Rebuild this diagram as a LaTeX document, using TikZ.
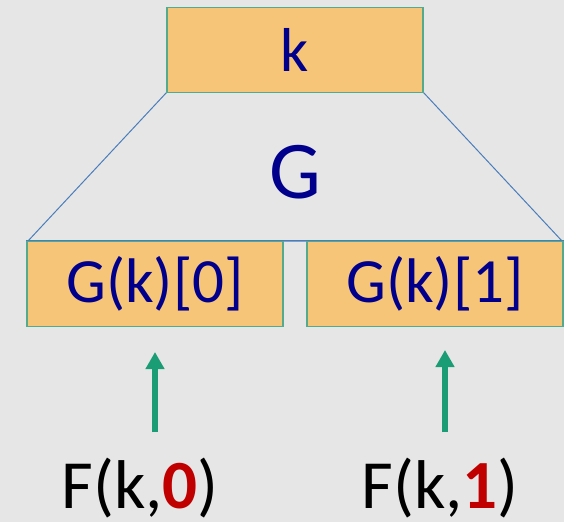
\documentclass[tikz,border=0pt]{standalone}
\usepackage{fontspec}
\setmainfont{Carlito}
\usetikzlibrary{arrows.meta}
\definecolor{slidegray}{RGB}{230,230,230}
\definecolor{boxorange}{RGB}{247,197,119}
\definecolor{boxedge}{RGB}{84,170,140}
\definecolor{linkblue}{RGB}{74,126,187}
\definecolor{textnavy}{RGB}{0,0,140}
\definecolor{arrowgreen}{RGB}{26,156,116}
\definecolor{bitred}{RGB}{192,0,0}

\begin{document}
\begin{tikzpicture}[x=1pt, y=-1pt,
    cell/.style={draw=boxedge, line width=1.5pt, fill=boxorange, minimum width=256pt, minimum height=85pt, inner sep=0pt, text=textnavy},
    up/.style={-{Triangle[width=18pt,length=17pt]}, arrowgreen, line width=5.5pt}]
    \fill[slidegray] (0,0) rectangle (564,522);
    \useasboundingbox (0,0) rectangle (564,522);

    % funnel from the key to the two halves
    \draw[linkblue, line width=1pt] (167,92) -- (423,92) -- (562,241) -- (28,241) -- cycle;

    \node (k) at (295,50) [cell, font=\fontsize{62}{66}\selectfont] {k};
    \node (g) at (295,172) [text=textnavy, font=\fontsize{82}{86}\selectfont] {G};
    \node (g0) at (155,284) [cell, font=\fontsize{63}{66}\selectfont] {G(k)[0]};
    \node (g1) at (435,284) [cell, font=\fontsize{63}{66}\selectfont] {G(k)[1]};
    \draw[linkblue, line width=1pt] (g0.north west) -- (g1.north east);

    \node (f0) at (140,508) [anchor=base, inner sep=0pt, font=\fontsize{69}{72}\selectfont] {F(k,\textbf{\textcolor{bitred}{0}})};
    \node (f1) at (440,508) [anchor=base, inner sep=0pt, font=\fontsize{69}{72}\selectfont] {F(k,\textbf{\textcolor{bitred}{1}})};

    \coordinate (s0) at (155,432);
    \coordinate (s1) at (445,432);
    \coordinate (a0) at (155,352);
    \coordinate (a1) at (445,350);
    \draw[up] (s0) -- (a0);
    \draw[up] (s1) -- (a1);
\end{tikzpicture}
\end{document}
